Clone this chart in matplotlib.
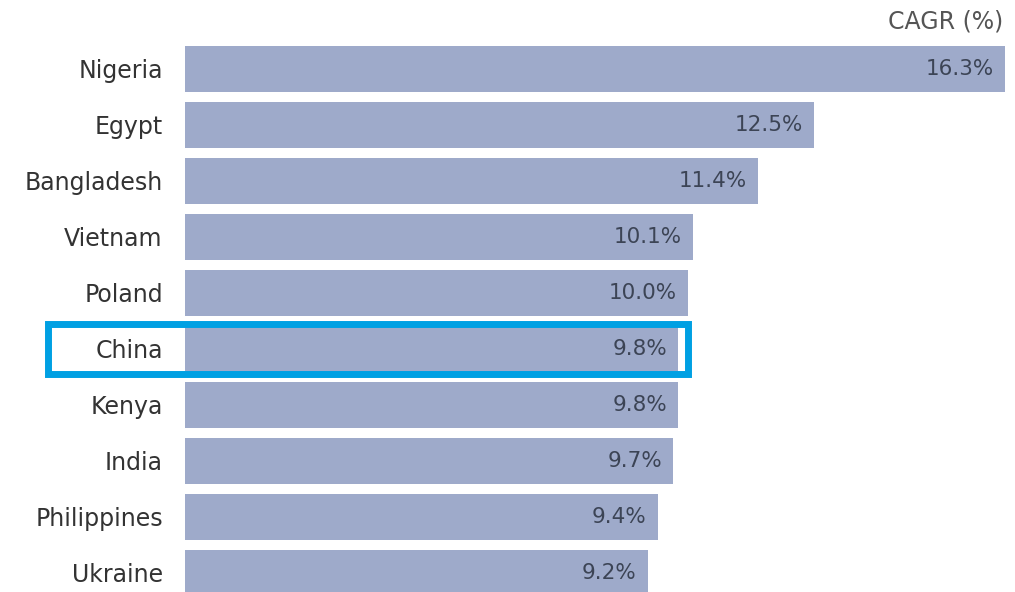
import matplotlib.pyplot as plt
from matplotlib.patches import Rectangle

paises = ['Nigeria', 'Egypt', 'Bangladesh', 'Vietnam', 'Poland',
          'China', 'Kenya', 'India', 'Philippines', 'Ukraine']
cagr = [16.3, 12.5, 11.4, 10.1, 10.0, 9.8, 9.8, 9.7, 9.4, 9.2]
etiquetas = ['16.3%', '12.5%', '11.4%', '10.1%', '10.0%',
             '9.8%', '9.8%', '9.7%', '9.4%', '9.2%']
resaltado = 'China'

plt.rcParams['font.family'] = ['DejaVu Sans']

fig = plt.figure(figsize=(10.15, 5.92), dpi=100)
ax = fig.add_axes([185 / 1015, 0, 820 / 1015, 1 - 46 / 592])

pos = list(range(len(paises)))
ax.barh(pos, cagr, height=0.82, color='#9eaaca')
ax.set_xlim(0, max(cagr))
ax.set_ylim(9.34, -0.41)

for y, v, t in zip(pos, cagr, etiquetas):
    ax.text(v - 0.22, y, t, ha='right', va='center', fontsize=15.5,
            color='#3c4455')

ax.set_yticks(pos)
ax.set_yticklabels(paises, fontsize=17, color='#333333')
ax.tick_params(axis='y', length=0, pad=16)
ax.set_xticks([])
for s in ax.spines.values():
    s.set_visible(False)

# recuadro azul alrededor de China
i = paises.index(resaltado)
x0 = -137 / 820 * max(cagr)
ax.add_patch(Rectangle((x0, i - 0.44), cagr[i] + 0.2 - x0, 0.88, fill=False,
                       edgecolor='#00a0e3', linewidth=5, clip_on=False, zorder=5))

fig.text(1003 / 1015, 1 - 22 / 592, 'CAGR (%)', ha='right', va='center',
         fontsize=17, color='#555555')

fig.savefig('out.png', dpi=100)
